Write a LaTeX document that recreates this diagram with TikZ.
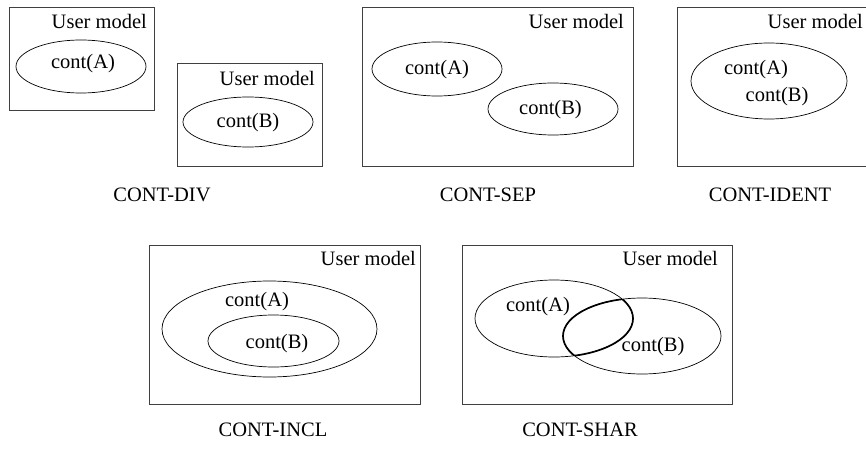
\documentclass[tikz,border=0pt]{standalone}
\usepackage{fontspec}
\setmainfont{Liberation Serif}
\newfontfamily\tnrfont{Liberation Serif}
\usetikzlibrary{shapes.geometric}
\tikzset{
  umbox/.style={draw=black!75, line width=0.9pt},
  ell/.style={ellipse, draw, line width=0.7pt, inner sep=0pt, outer sep=0pt},
  lbl/.style={inner sep=0pt, font=\tnrfont\fontsize{20.5}{24}\selectfont},
  um/.style={lbl, anchor=east},
  captxt/.style={lbl}
}
\begin{document}
\begin{tikzpicture}[x=1pt,y=-1pt]
\useasboundingbox (0,0) rectangle (866,449);
% ---------- CONT-DIV ----------
\node[umbox, minimum width=145pt, minimum height=103pt, inner sep=0pt] (box1) at (81.5,58.5) {};
\node[um] (um1) at (147,21.5) {User model};
\node[ell, minimum width=130pt, minimum height=53pt] (ea1) at (81,66.5) {};
\node[lbl] (ta1) at (83,64) {cont(A)};
\node[umbox, minimum width=145pt, minimum height=103pt, inner sep=0pt] (box2) at (249.5,114.5) {};
\node[um] (um2) at (315,78) {User model};
\node[ell, minimum width=130pt, minimum height=50pt] (eb1) at (248,122) {};
\node[lbl] (tb1) at (248,123) {cont(B)};
\node[captxt] (c1) at (162,195) {CONT-DIV};
% ---------- CONT-SEP ----------
\node[umbox, minimum width=271pt, minimum height=159pt, inner sep=0pt] (box3) at (497.5,86.5) {};
\node[um] (um3) at (624,21.5) {User model};
\node[ell, minimum width=130pt, minimum height=54pt] (ea2) at (437,69) {};
\node[lbl] (ta2) at (437,70) {cont(A)};
\node[ell, minimum width=130pt, minimum height=52pt] (eb2) at (553,109) {};
\node[lbl] (tb2) at (550.5,110) {cont(B)};
\node[captxt] (c2) at (488,195) {CONT-SEP};
% ---------- CONT-IDENT ----------
\node[umbox, minimum width=193pt, minimum height=159pt, inner sep=0pt] (box4) at (773.5,86.5) {};
\node[um] (um4) at (863,21.5) {User model};
\node[ell, minimum width=156pt, minimum height=76pt] (eab) at (769,81) {};
\node[lbl] (ta3) at (756,70) {cont(A)};
\node[lbl] (tb3) at (777,97) {cont(B)};
\node[captxt] (c3) at (770,195) {CONT-IDENT};
% ---------- CONT-INCL ----------
\node[umbox, minimum width=271pt, minimum height=159pt, inner sep=0pt] (box5) at (284.5,324.5) {};
\node[um] (um5) at (416,258) {User model};
\node[ell, minimum width=215pt, minimum height=96pt] (ea4) at (269.5,329) {};
\node[lbl] (ta4) at (257,302) {cont(A)};
\node[ell, minimum width=131pt, minimum height=52pt] (eb4) at (273.5,341) {};
\node[lbl] (tb4) at (277,344) {cont(B)};
\node[captxt] (c4) at (273,430) {CONT-INCL};
% ---------- CONT-SHAR ----------
\node[umbox, minimum width=270pt, minimum height=159pt, inner sep=0pt] (box6) at (597,324.5) {};
\node[um] (um6) at (718,258) {User model};
\node[ell, minimum width=158pt, minimum height=77pt] (ea5) at (554,318.5) {};
\node[ell, minimum width=158pt, minimum height=76pt] (eb5) at (642,336) {};
\begin{scope}
  \clip (554,318.5) ellipse [x radius=79pt, y radius=38.5pt];
  \draw[line width=1.7pt] (642,336) ellipse [x radius=79pt, y radius=38pt];
\end{scope}
\begin{scope}
  \clip (642,336) ellipse [x radius=79pt, y radius=38pt];
  \draw[line width=1.7pt] (554,318.5) ellipse [x radius=79pt, y radius=38.5pt];
\end{scope}
\node[lbl] (ta5) at (538,307) {cont(A)};
\node[lbl] (tb5) at (653,347) {cont(B)};
\node[captxt] (c5) at (580,430) {CONT-SHAR};
\end{tikzpicture}
\end{document}
